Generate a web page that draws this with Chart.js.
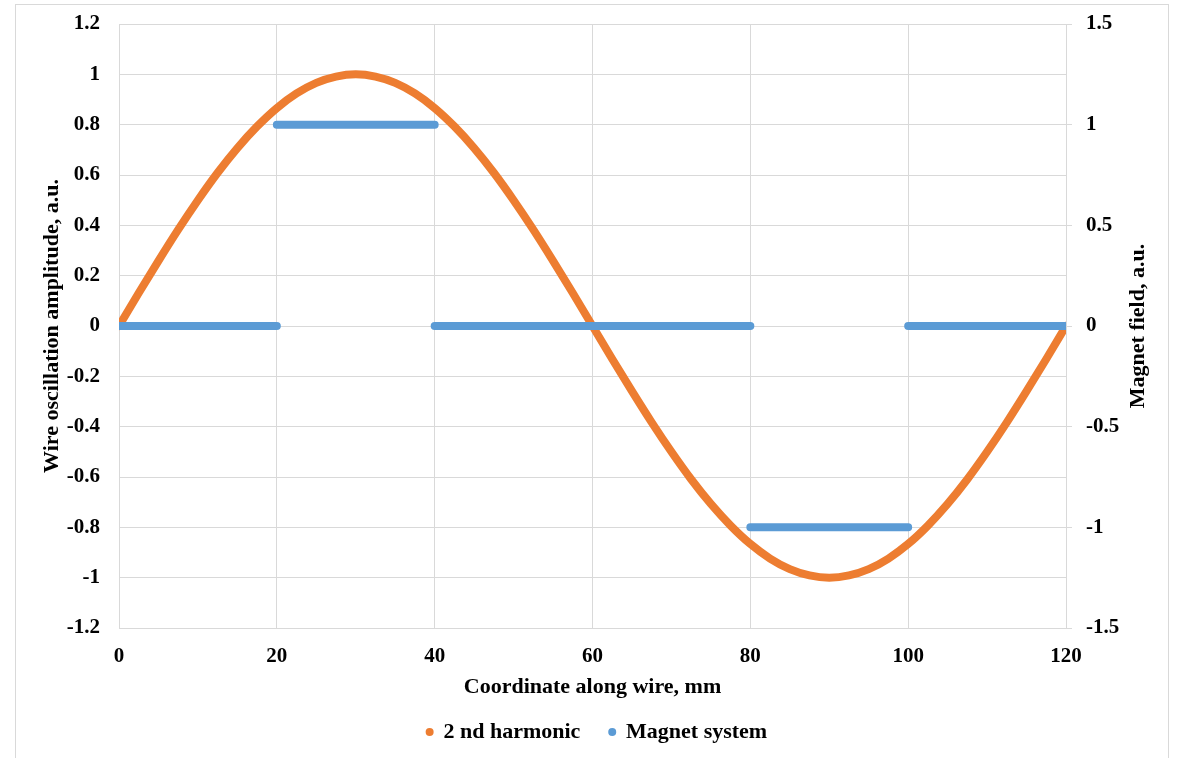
<!DOCTYPE html>
<html><head><meta charset="utf-8">
<script src="https://cdn.jsdelivr.net/npm/chart.js@4.4.0/dist/chart.umd.min.js"></script>
<style>html,body{margin:0;padding:0;background:#fff}#wrap{width:1178px;height:758px;position:relative}</style>
</head><body><div id="wrap"><canvas id="c" width="1178" height="758"></canvas></div>
<script>
// Data
const harmonicX = [0,2.5,5,7.5,10,12.5,15,17.5,20,22.5,25,27.5,30,32.5,35,37.5,40,42.5,45,47.5,50,52.5,55,57.5,60,
  62.5,65,67.5,70,72.5,75,77.5,80,82.5,85,87.5,90,92.5,95,97.5,100,102.5,105,107.5,110,112.5,115,117.5,120];
const harmonicY = [0,0.131,0.259,0.383,0.5,0.609,0.707,0.793,0.866,0.924,0.966,0.991,1,0.991,0.966,0.924,0.866,0.793,0.707,0.609,0.5,0.383,0.259,0.131,0,
  -0.131,-0.259,-0.383,-0.5,-0.609,-0.707,-0.793,-0.866,-0.924,-0.966,-0.991,-1,-0.991,-0.966,-0.924,-0.866,-0.793,-0.707,-0.609,-0.5,-0.383,-0.259,-0.131,0];
const magnetSegStart = [0, 20, 40, 80, 100];
const magnetSegEnd   = [20, 40, 80, 100, 120];
const magnetField    = [0, 1, 0, -1, 0];
const xTicks = [0, 20, 40, 60, 80, 100, 120];
const leftTicks = [-1.2,-1,-0.8,-0.6,-0.4,-0.2,0,0.2,0.4,0.6,0.8,1,1.2];
const rightTicks = [-1.5,-1,-0.5,0,0.5,1,1.5];
const seriesNames = ['2 nd harmonic', 'Magnet system'];
const axisTitles = {x: 'Coordinate along wire, mm', left: 'Wire oscillation amplitude, a.u.', right: 'Magnet field, a.u.'};

const harmonicData = harmonicX.map((x, i) => ({x: x, y: harmonicY[i]}));
const magnetData = [];
magnetSegStart.forEach((s, i) => {
  magnetData.push({x: s, y: magnetField[i]});
  magnetData.push({x: magnetSegEnd[i], y: magnetField[i]});
  magnetData.push({x: magnetSegEnd[i], y: null});
});

const FONT = "'Liberation Serif', 'Times New Roman', serif";
const GRID = '#d9d9d9';
const ORANGE = '#ED7D31';
const BLUE = '#5B9BD5';
const fmt = v => String(parseFloat(Number(v).toFixed(2)));
const noPad = s => { s.paddingTop = 0; s.paddingBottom = 0; };

const frame = {
  id: 'frame',
  afterLayout(chart) {
    const lg = chart.legend;
    if (lg) { lg.left += 8; lg.right += 8; }
  },
  beforeDraw(chart) {
    const ctx = chart.ctx;
    ctx.save();
    ctx.fillStyle = '#fff';
    ctx.fillRect(0, 0, chart.width, chart.height);
    ctx.strokeStyle = GRID;
    ctx.lineWidth = 1;
    ctx.strokeRect(15.5, 4.5, 1153, 770);
    ctx.restore();
  },
  afterDraw(chart) {
    const ctx = chart.ctx, a = chart.chartArea;
    ctx.save();
    ctx.translate(1138, (a.top + a.bottom) / 2);
    ctx.rotate(-Math.PI / 2);
    ctx.font = 'bold 22px ' + FONT;
    ctx.fillStyle = '#000';
    ctx.textAlign = 'center';
    ctx.textBaseline = 'middle';
    ctx.fillText(axisTitles.right, 0, 0);
    ctx.restore();
  }
};

new Chart(document.getElementById('c'), {
  type: 'line',
  data: {
    datasets: [
      {label: seriesNames[1], data: magnetData, yAxisID: 'y2', borderColor: BLUE, backgroundColor: BLUE,
       borderWidth: 8, borderCapStyle: 'round', pointRadius: 0, pointStyle: 'circle', spanGaps: false, tension: 0},
      {label: seriesNames[0], data: harmonicData, yAxisID: 'y', borderColor: ORANGE, backgroundColor: ORANGE,
       borderWidth: 8, borderCapStyle: 'round', borderJoinStyle: 'round', pointRadius: 0, pointStyle: 'circle',
       cubicInterpolationMode: 'monotone'}
    ]
  },
  options: {
    responsive: false,
    animation: false,
    devicePixelRatio: 1,
    layout: {padding: {top: 24, left: 0, right: 0, bottom: 5}},
    plugins: {
      tooltip: {enabled: false},
      legend: {
        position: 'bottom',
        labels: {
          usePointStyle: true, boxWidth: 5.66, boxHeight: 5.66, padding: 29, color: '#000',
          font: {family: FONT, size: 22, weight: 'bold'},
          generateLabels: chart => Chart.defaults.plugins.legend.labels.generateLabels(chart)
            .map(l => Object.assign(l, {lineWidth: 0, strokeStyle: 'rgba(0,0,0,0)'})),
          sort: (a, b) => b.datasetIndex - a.datasetIndex
        }
      }
    },
    scales: {
      x: {
        type: 'linear', min: 0, max: 120,
        afterBuildTicks: s => { s.ticks = xTicks.map(v => ({value: v})); },
        afterFit: s => { s.height = 64; s.paddingLeft = 0; s.paddingRight = 0; },
        grid: {color: GRID, drawTicks: false},
        border: {color: GRID},
        ticks: {padding: 16, color: '#000', font: {family: FONT, size: 21, weight: 'bold'}, callback: fmt, maxRotation: 0},
        title: {display: true, text: axisTitles.x, color: '#000', padding: {top: 0, bottom: 0},
                font: {family: FONT, size: 22, weight: 'bold', lineHeight: 0.4}}
      },
      y: {
        type: 'linear', position: 'left', min: -1.2, max: 1.2,
        afterBuildTicks: s => { s.ticks = leftTicks.map(v => ({value: v})); },
        afterFit: s => { s.width = 119; noPad(s); },
        grid: {color: GRID, drawTicks: false},
        border: {color: GRID},
        ticks: {padding: 19, color: '#000', font: {family: FONT, size: 21, weight: 'bold'}, callback: fmt},
        title: {display: true, text: axisTitles.left, color: '#000', padding: {top: 39, bottom: 0},
                font: {family: FONT, size: 22, weight: 'bold'}}
      },
      y2: {
        type: 'linear', position: 'right', min: -1.5, max: 1.5,
        afterBuildTicks: s => { s.ticks = rightTicks.map(v => ({value: v})); },
        afterFit: s => { s.width = 112; noPad(s); },
        grid: {color: GRID, drawOnChartArea: false, drawTicks: true, tickLength: 6},
        border: {color: GRID},
        ticks: {padding: 14, color: '#000', font: {family: FONT, size: 21, weight: 'bold'}, callback: fmt}
      }
    }
  },
  plugins: [frame]
});
</script>
</body></html>
